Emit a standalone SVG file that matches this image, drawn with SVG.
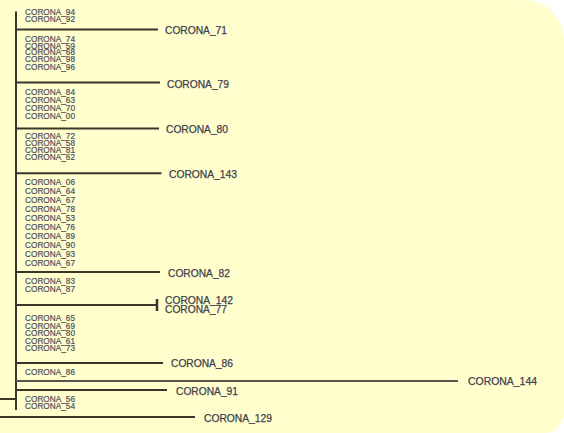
<svg xmlns="http://www.w3.org/2000/svg" width="564" height="433" viewBox="0 0 564 433">
<style>
.bg{fill:#FFFECC}
.ln{stroke:#38372a;stroke-width:2;fill:none;stroke-linecap:butt}
.ln2{stroke:#55554a;stroke-width:2;fill:none}
.lf{font-family:"Liberation Sans",Arial,sans-serif;font-size:8.6px;fill:#4e4e64;stroke:#4e4e64;stroke-width:0.2}
.rt{font-family:"Liberation Sans",Arial,sans-serif;font-size:10.3px;fill:#3e3e4c;stroke:#3e3e4c;stroke-width:0.25}
</style>
<rect width="564" height="433" fill="#ffffff"/>
<path class="bg" d="M0,0 H524 A40,40 0 0 1 564,40 V413 A20,20 0 0 1 544,433 H0 Z"/>
<g id="connectors">
<path class="ln" d="M16,11.5 V410"/>
<path class="ln" d="M0,399 H17"/>
<path class="ln" d="M16,29.5 H158"/>
<path class="ln" d="M16,82.5 H160"/>
<path class="ln" d="M16,128.5 H159"/>
<path class="ln" d="M16,173.3 H161.5"/>
<path class="ln" d="M16,272 H160"/>
<path class="ln" d="M16,305 H157"/>
<path class="ln" d="M157,299 V311" style="stroke-width:2.5"/>
<path class="ln" d="M16,363 H163"/>
<path class="ln2" d="M16,381 H458"/>
<path class="ln" d="M16,390 H167"/>
<path class="ln" d="M0,417 H195"/>
</g>
<g id="cluster-1">
<text class="lf" x="25" y="15.1" textLength="50" lengthAdjust="spacingAndGlyphs">CORONA_94</text>
<text class="lf" x="25" y="21.6" textLength="50" lengthAdjust="spacingAndGlyphs">CORONA_92</text>
</g>
<g id="leaf-71"><text class="rt" x="165" y="34" textLength="62" lengthAdjust="spacingAndGlyphs">CORONA_71</text></g>
<g id="cluster-2">
<text class="lf" x="25" y="42.1" textLength="50" lengthAdjust="spacingAndGlyphs">CORONA_74</text>
<text class="lf" x="25" y="48.6" textLength="50" lengthAdjust="spacingAndGlyphs">CORONA_59</text>
<text class="lf" x="25" y="55.1" textLength="50" lengthAdjust="spacingAndGlyphs">CORONA_68</text>
<text class="lf" x="25" y="62.1" textLength="50" lengthAdjust="spacingAndGlyphs">CORONA_98</text>
<text class="lf" x="25" y="69.6" textLength="50" lengthAdjust="spacingAndGlyphs">CORONA_96</text>
</g>
<g id="leaf-79"><text class="rt" x="167" y="87.9" textLength="62" lengthAdjust="spacingAndGlyphs">CORONA_79</text></g>
<g id="cluster-3">
<text class="lf" x="25" y="94.6" textLength="50" lengthAdjust="spacingAndGlyphs">CORONA_84</text>
<text class="lf" x="25" y="102.6" textLength="50" lengthAdjust="spacingAndGlyphs">CORONA_63</text>
<text class="lf" x="25" y="110.6" textLength="50" lengthAdjust="spacingAndGlyphs">CORONA_70</text>
<text class="lf" x="25" y="119.1" textLength="50" lengthAdjust="spacingAndGlyphs">CORONA_00</text>
</g>
<g id="leaf-80"><text class="rt" x="166" y="132.7" textLength="62" lengthAdjust="spacingAndGlyphs">CORONA_80</text></g>
<g id="cluster-4">
<text class="lf" x="25" y="139.1" textLength="50" lengthAdjust="spacingAndGlyphs">CORONA_72</text>
<text class="lf" x="25" y="146.1" textLength="50" lengthAdjust="spacingAndGlyphs">CORONA_58</text>
<text class="lf" x="25" y="153.1" textLength="50" lengthAdjust="spacingAndGlyphs">CORONA_81</text>
<text class="lf" x="25" y="159.6" textLength="50" lengthAdjust="spacingAndGlyphs">CORONA_62</text>
</g>
<g id="leaf-143"><text class="rt" x="169" y="177.9" textLength="68" lengthAdjust="spacingAndGlyphs">CORONA_143</text></g>
<g id="cluster-5">
<text class="lf" x="25" y="185.1" textLength="50" lengthAdjust="spacingAndGlyphs">CORONA_06</text>
<text class="lf" x="25" y="194.1" textLength="50" lengthAdjust="spacingAndGlyphs">CORONA_64</text>
<text class="lf" x="25" y="203.1" textLength="50" lengthAdjust="spacingAndGlyphs">CORONA_67</text>
<text class="lf" x="25" y="212.1" textLength="50" lengthAdjust="spacingAndGlyphs">CORONA_78</text>
<text class="lf" x="25" y="221.1" textLength="50" lengthAdjust="spacingAndGlyphs">CORONA_53</text>
<text class="lf" x="25" y="230.1" textLength="50" lengthAdjust="spacingAndGlyphs">CORONA_76</text>
<text class="lf" x="25" y="239.1" textLength="50" lengthAdjust="spacingAndGlyphs">CORONA_89</text>
<text class="lf" x="25" y="248.1" textLength="50" lengthAdjust="spacingAndGlyphs">CORONA_90</text>
<text class="lf" x="25" y="257.1" textLength="50" lengthAdjust="spacingAndGlyphs">CORONA_93</text>
<text class="lf" x="25" y="266.1" textLength="50" lengthAdjust="spacingAndGlyphs">CORONA_67</text>
</g>
<g id="leaf-82"><text class="rt" x="168" y="276.5" textLength="62" lengthAdjust="spacingAndGlyphs">CORONA_82</text></g>
<g id="cluster-6">
<text class="lf" x="25" y="284.1" textLength="50" lengthAdjust="spacingAndGlyphs">CORONA_83</text>
<text class="lf" x="25" y="291.9" textLength="50" lengthAdjust="spacingAndGlyphs">CORONA_87</text>
</g>
<g id="leaf-142"><text class="rt" x="165" y="303.7" textLength="68" lengthAdjust="spacingAndGlyphs">CORONA_142</text></g>
<g id="leaf-77"><text class="rt" x="165" y="313.4" textLength="62" lengthAdjust="spacingAndGlyphs">CORONA_77</text></g>
<g id="cluster-7">
<text class="lf" x="25" y="321.1" textLength="50" lengthAdjust="spacingAndGlyphs">CORONA_65</text>
<text class="lf" x="25" y="328.6" textLength="50" lengthAdjust="spacingAndGlyphs">CORONA_69</text>
<text class="lf" x="25" y="336.1" textLength="50" lengthAdjust="spacingAndGlyphs">CORONA_80</text>
<text class="lf" x="25" y="343.6" textLength="50" lengthAdjust="spacingAndGlyphs">CORONA_61</text>
<text class="lf" x="25" y="351.1" textLength="50" lengthAdjust="spacingAndGlyphs">CORONA_73</text>
</g>
<g id="leaf-86"><text class="rt" x="171" y="367.4" textLength="62" lengthAdjust="spacingAndGlyphs">CORONA_86</text></g>
<g id="leaf-86b"><text class="lf" x="25" y="374.6" textLength="50" lengthAdjust="spacingAndGlyphs">CORONA_86</text></g>
<g id="leaf-144"><text class="rt" x="468" y="385.2" textLength="69" lengthAdjust="spacingAndGlyphs">CORONA_144</text></g>
<g id="leaf-91"><text class="rt" x="176" y="394.5" textLength="62" lengthAdjust="spacingAndGlyphs">CORONA_91</text></g>
<g id="cluster-8">
<text class="lf" x="25" y="402.4" textLength="50" lengthAdjust="spacingAndGlyphs">CORONA_56</text>
<text class="lf" x="25" y="408.6" textLength="50" lengthAdjust="spacingAndGlyphs">CORONA_54</text>
</g>
<g id="leaf-129"><text class="rt" x="204" y="421.5" textLength="68" lengthAdjust="spacingAndGlyphs">CORONA_129</text></g>
</svg>
